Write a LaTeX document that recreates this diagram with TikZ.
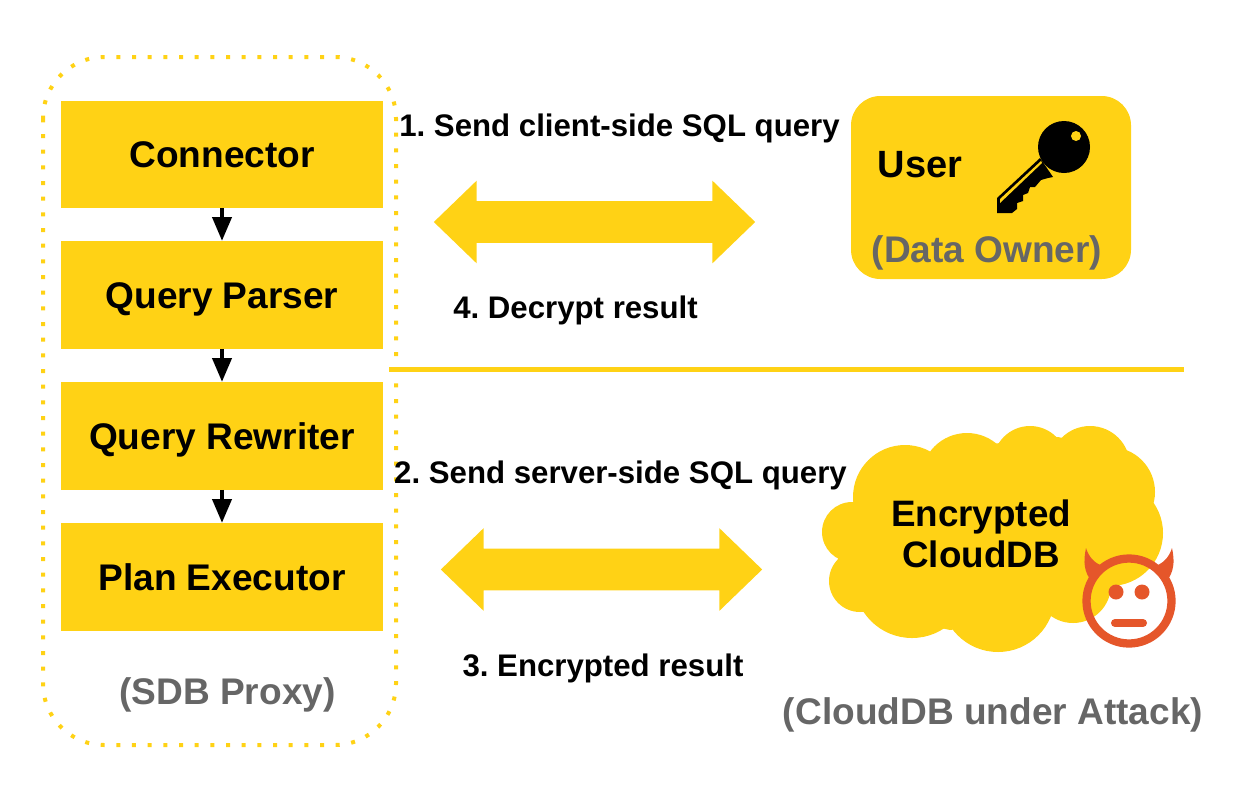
\documentclass[tikz,border=0pt]{standalone}
\usepackage{fontspec}
\setmainfont{Liberation Sans}
\frenchspacing
\usetikzlibrary{shapes.arrows,arrows.meta,positioning}
\definecolor{sdbyellow}{HTML}{FFD215}
\definecolor{sdbgray}{HTML}{666666}
\definecolor{sdbred}{HTML}{E5562A}
\tikzset{
  stagebox/.style = {fill=sdbyellow, minimum width=241.5pt, minimum height=80.5pt, inner sep=0pt, text height=24pt, text depth=4.5pt, font=\bfseries\fontsize{27.8}{30}\selectfont},
  msgarrow/.style = {shape=double arrow, fill=sdbyellow, inner sep=0pt, text width=0pt, text height=30.75pt, text depth=0pt, minimum height=241pt, minimum width=61.5pt, double arrow head extend=15.4pt, double arrow tip angle=88, shape border rotate=0},
  msglabel/.style = {inner sep=0pt, text height=20pt, text depth=3.2pt, font=\bfseries\fontsize{23.4}{25}\selectfont},
  graylabel/.style = {inner sep=0pt, text=sdbgray, text height=24pt, text depth=4.5pt, font=\bfseries\fontsize{27.8}{30}\selectfont},
  nextstep/.style = {-{Triangle[length=18pt,width=14pt]}, line width=3.6pt}
}
\begin{document}
\begin{tikzpicture}[x=0.75pt, y=-0.75pt]
\useasboundingbox (0,0) rectangle (1248,800);
\draw [sdbyellow, line width=3pt, dash pattern=on 3pt off 8.75pt, rounded corners=46pt] (43,57) rectangle (396,745);

\node [stagebox] (connector) at (222,154.5) {Connector};
\node [stagebox] (parser) at (222,295) {Query Parser};
\node [stagebox] (rewriter) at (222,436) {Query Rewriter};
\node [stagebox] (executor) at (222,577) {Plan Executor};
\draw [nextstep] (connector) -- (parser);
\draw [nextstep] (parser) -- (rewriter);
\draw [nextstep] (rewriter) -- (executor);
\node [graylabel] (proxy) at (227.5,691) {(SDB Proxy)};

\node [msgarrow] (upper) at (594.5,222) {};
\node [msgarrow] (lower) at (601.5,569.5) {};
\node [msglabel] (send) at (619.5,125) {1. Send client-side SQL query};
\node [msglabel] (decrypt) at (575.5,307) {4. Decrypt result};
\node [msglabel] (sendserver) at (620.5,472) {2. Send server-side SQL query};
\node [msglabel] (encrypted) at (603,665) {3. Encrypted result};

\coordinate (sepleft) at (389,369);
\coordinate (sepright) at (1184,369);
\draw [sdbyellow, line width=3.75pt] (sepleft) -- (sepright);

\fill [sdbyellow, rounded corners=22pt] (851,96) rectangle (1131,279);
\node [inner sep=0pt, text height=24pt, text depth=4.5pt, font=\bfseries\fontsize{28.5}{30}\selectfont] (user) at (920,164) {User};
\node [graylabel] (owner) at (987,249) {(Data Owner)};
\fill (1064,147) circle [radius=26];
\fill (1040,158) -- (997,198) -- (997,213) -- (1012,213) -- (1017,209) -- (1017,203) -- (1023,201) -- (1023,195) -- (1028,193) -- (1030,187) -- (1035,187) -- (1041,180) -- (1048,178) -- (1053,177) -- cycle;
\fill [sdbyellow] (1076,136) circle [radius=5];
\fill [sdbyellow] (1041,161) -- (1000,199) -- (1000,203) -- (1042,163) -- cycle;

\fill [sdbyellow] (905,497) circle [radius=52] (967,479) circle [radius=46] (1030,463) circle [radius=37] (1090,466) circle [radius=40] (1110,492) circle [radius=45] (1110,533) circle [radius=53] (1073,585) circle [radius=38] (998,595) circle [radius=57] (912,580) circle [radius=58] (860,581) circle [radius=31] (852,532) circle [radius=30];
\fill [sdbyellow] (853,502) -- (933,453) -- (1000,443) -- (1058,437) -- (1125,453) -- (1150,507) -- (1120,580) -- (1047,617) -- (950,630) -- (868,612) -- (838,560) -- cycle;
\node [align=center, font=\bfseries\fontsize{27.6}{30.75}\selectfont] (cloud) at (981,534) {Encrypted\\CloudDB};

\draw [sdbred, line width=6.2pt] (1129,601) circle [radius=42.5];
\fill [sdbred] (1086,548) .. controls (1083,562) and (1084,572) .. (1092,582) -- (1103,566) .. controls (1096,564) and (1089,558) .. cycle;
\fill [sdbred] (1172,548) .. controls (1175,562) and (1174,572) .. (1166,582) -- (1155,566) .. controls (1162,564) and (1169,558) .. cycle;
\fill [sdbred] (1116,592) circle [radius=7.5] (1142,592) circle [radius=7.5];
\draw [sdbred, line width=6pt, line cap=round] (1115,623) -- (1143,623);
\node [graylabel] (attack) at (993,711) {(CloudDB under Attack)};
\end{tikzpicture}
\end{document}
